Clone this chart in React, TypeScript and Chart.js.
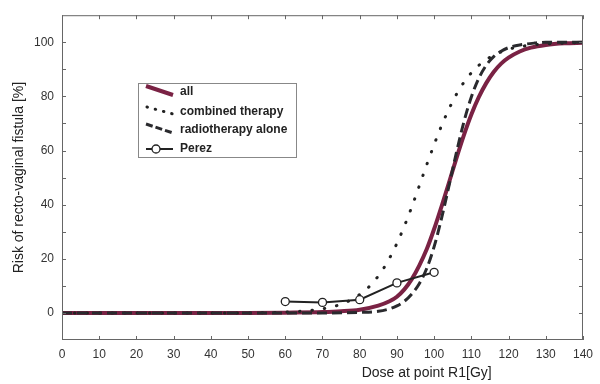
import React, { useEffect, useRef } from "react";
import { Chart, registerables } from "chart.js";

Chart.register(...registerables);

// ---- data ----
const allDose = [0, 50, 60, 70, 75, 80, 85, 88, 90, 92, 94, 96, 98, 100, 102, 104, 106, 108, 110, 112, 114, 116, 118, 120, 123, 126, 130, 135, 140];
const allRisk = [0, 0, 0.1, 0.3, 0.6, 1.2, 2.7, 4.3, 6, 8.7, 12.5, 17.5, 23.5, 31, 39.4, 48.2, 57.2, 65.7, 73.3, 79.7, 84.9, 89, 92.1, 94.3, 96.6, 98, 99, 99.6, 99.8];

const combDose = [0, 50, 60, 65, 70, 75, 78, 80, 82, 84, 86, 88, 90, 92, 94, 96, 98, 100, 102, 104, 106, 108, 110, 113, 116, 120, 125, 130, 140];
const combRisk = [0, 0, 0.3, 0.7, 1.5, 3.2, 5.1, 6.8, 9, 11.9, 15.6, 20.2, 25.7, 32.1, 39.2, 46.9, 54.7, 62.2, 69.2, 75.4, 80.8, 85.2, 88.7, 92.6, 95.2, 97.4, 98.8, 99.4, 99.9];

const radioDose = [0, 60, 70, 80, 85, 88, 90, 92, 94, 96, 98, 100, 102, 104, 106, 108, 110, 112, 114, 116, 118, 120, 123, 127, 130, 140];
const radioRisk = [0, 0, 0, 0.2, 0.6, 1.5, 2.6, 4.3, 7, 10.8, 16.4, 24.5, 35, 47, 59.3, 70.6, 79.8, 86.7, 91.5, 94.7, 96.7, 98, 99, 99.7, 100, 100];

const perezDose = [60, 70, 80, 90, 100];
const perezRisk = [4.2, 3.9, 4.9, 11.1, 15];

const xTicks = [0, 10, 20, 30, 40, 50, 60, 70, 80, 90, 100, 110, 120, 130, 140];
const yTicks = [0, 20, 40, 60, 80, 100];
const minorStep = 10;

const seriesLabels = ["all", "combined therapy", "radiotherapy alone", "Perez"];
const xTitle = "Dose at point R1[Gy]";
const yTitle = "Risk of recto-vaginal fistula [%]";

const zip = (xs: number[], ys: number[]) => xs.map((x, i) => ({ x, y: ys[i] }));

const MAROON = "#7a2244";
const DARK = "#2a2a2e";
const FONT = "'Liberation Sans', Arial, sans-serif";

const framePlugin = {
  id: "frame",
  afterDraw(chart: any) {
    const { ctx, chartArea: a, scales } = chart;
    const xs = scales.x;
    const ys = scales.y;
    ctx.save();
    // box
    ctx.strokeStyle = "#666";
    ctx.lineWidth = 1;
    ctx.strokeRect(a.left + 0.5, a.top + 0.5, a.right - a.left - 1, a.bottom - a.top - 1);
    // inward ticks
    ctx.beginPath();
    for (let v = xs.min; v <= xs.max + 1e-9; v += minorStep) {
      const px = Math.round(xs.getPixelForValue(v)) + 0.5;
      ctx.moveTo(px, a.bottom);
      ctx.lineTo(px, a.bottom - 4);
      ctx.moveTo(px, a.top);
      ctx.lineTo(px, a.top + 4);
    }
    for (let v = -10; v <= 110 + 1e-9; v += minorStep) {
      const py = Math.round(ys.getPixelForValue(v)) + 0.5;
      if (py <= a.top + 1 || py >= a.bottom - 1) continue;
      ctx.moveTo(a.left, py);
      ctx.lineTo(a.left + 4, py);
      ctx.moveTo(a.right, py);
      ctx.lineTo(a.right - 4, py);
    }
    ctx.stroke();

    // axis titles
    ctx.fillStyle = "#222";
    ctx.font = `14px ${FONT}`;
    ctx.textAlign = "center";
    ctx.textBaseline = "middle";
    ctx.fillText(xTitle, a.left + (a.right - a.left) * 0.7, 373);
    ctx.save();
    ctx.translate(19, (a.top + a.bottom) / 2);
    ctx.rotate(-Math.PI / 2);
    ctx.fillText(yTitle, 0, 0);
    ctx.restore();

    // legend box
    const bx = 138, by = 83, bw = 158, bh = 74;
    ctx.fillStyle = "#fff";
    ctx.fillRect(bx, by, bw, bh);
    ctx.strokeStyle = "#888";
    ctx.lineWidth = 1;
    ctx.strokeRect(bx + 0.5, by + 0.5, bw, bh);

    ctx.font = `bold 12px ${FONT}`;
    ctx.textAlign = "left";
    ctx.fillStyle = "#222";
    const rows = [92, 112, 130, 149];
    // all
    ctx.lineCap = "butt";
    ctx.strokeStyle = MAROON;
    ctx.lineWidth = 4;
    ctx.setLineDash([]);
    ctx.beginPath();
    ctx.moveTo(146, 86);
    ctx.lineTo(173, 95);
    ctx.stroke();
    // combined
    ctx.strokeStyle = "#222";
    ctx.lineWidth = 3;
    ctx.lineCap = "round";
    ctx.setLineDash([0.5, 8]);
    ctx.beginPath();
    ctx.moveTo(147, 107);
    ctx.lineTo(173, 114);
    ctx.stroke();
    // radio
    ctx.strokeStyle = DARK;
    ctx.lineCap = "butt";
    ctx.setLineDash([7, 3]);
    ctx.beginPath();
    ctx.moveTo(146, 124);
    ctx.lineTo(173, 133);
    ctx.stroke();
    // perez
    ctx.setLineDash([]);
    ctx.lineWidth = 2;
    ctx.strokeStyle = "#222";
    ctx.beginPath();
    ctx.moveTo(146, 149);
    ctx.lineTo(173, 149);
    ctx.stroke();
    ctx.beginPath();
    ctx.arc(156, 149, 4, 0, Math.PI * 2);
    ctx.fillStyle = "#fff";
    ctx.fill();
    ctx.lineWidth = 1.3;
    ctx.stroke();

    ctx.fillStyle = "#222";
    seriesLabels.forEach((t, i) => ctx.fillText(t, 180, rows[i]));
    ctx.restore();
  },
};

export default function App() {
  const ref = useRef<HTMLCanvasElement | null>(null);
  useEffect(() => {
    document.body.style.margin = "0";
    const canvas = ref.current;
    if (!canvas) return;
    const chart = new Chart(canvas, {
      type: "line",
      data: {
        datasets: [
          {
            label: seriesLabels[0],
            data: zip(allDose, allRisk),
            borderColor: MAROON,
            borderWidth: 4,
            pointRadius: 0,
            cubicInterpolationMode: "monotone",
            order: 4,
          },
          {
            label: seriesLabels[1],
            data: zip(combDose, combRisk),
            borderColor: "#222",
            borderWidth: 3,
            borderDash: [0.5, 12],
            borderCapStyle: "round",
            pointRadius: 0,
            cubicInterpolationMode: "monotone",
            order: 3,
          },
          {
            label: seriesLabels[2],
            data: zip(radioDose, radioRisk),
            borderColor: DARK,
            borderWidth: 3,
            borderDash: [10, 5],
            pointRadius: 0,
            cubicInterpolationMode: "monotone",
            order: 2,
          },
          {
            label: seriesLabels[3],
            data: zip(perezDose, perezRisk),
            borderColor: "#222",
            borderWidth: 2,
            pointRadius: 4,
            pointBackgroundColor: "#fff",
            pointBorderColor: "#222",
            pointBorderWidth: 1.3,
            tension: 0,
            order: 1,
          },
        ],
      },
      options: {
        responsive: false,
        animation: false,
        layout: { padding: { left: 0, right: 10, top: 14, bottom: 0 } },
        plugins: { legend: { display: false }, tooltip: { enabled: false } },
        scales: {
          x: {
            type: "linear",
            min: 0,
            max: 140,
            grid: { display: false, drawTicks: false },
            border: { display: false },
            afterBuildTicks: (s: any) => {
              s.ticks = xTicks.map((v) => ({ value: v }));
            },
            afterFit: (s: any) => {
              s.height = 44;
            },
            ticks: {
              padding: 7,
              maxRotation: 0,
              autoSkip: false,
              color: "#333",
              font: { family: FONT, size: 12 },
            },
          },
          y: {
            type: "linear",
            min: -10,
            max: 110,
            grid: { display: false, drawTicks: false },
            border: { display: false },
            afterBuildTicks: (s: any) => {
              s.ticks = yTicks.map((v) => ({ value: v }));
            },
            afterFit: (s: any) => {
              s.width = 62;
            },
            ticks: {
              padding: 8,
              autoSkip: false,
              color: "#333",
              font: { family: FONT, size: 12 },
            },
          },
        },
      },
      plugins: [framePlugin],
    } as any);
    return () => chart.destroy();
  }, []);
  return (
    <div style={{ position: "absolute", left: 0, top: 0, width: 600, height: 384 }}>
      <canvas ref={ref} width={600} height={384} style={{ width: 600, height: 384 }} />
    </div>
  );
}
